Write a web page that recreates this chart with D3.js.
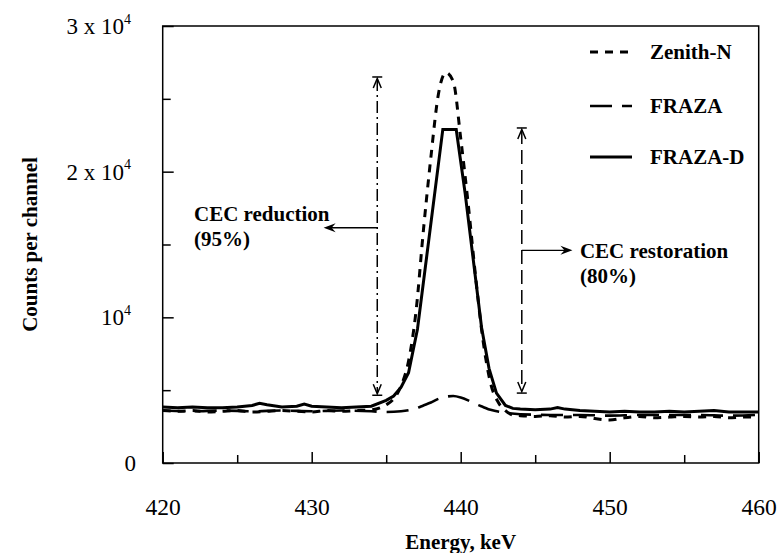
<!DOCTYPE html>
<html>
<head>
<meta charset="utf-8">
<script src="https://cdn.jsdelivr.net/npm/d3@7.9.0/dist/d3.min.js"></script>
<style>
  body { margin: 0; background: #fff; }
  svg { display: block; font-family: "Liberation Serif", "Times New Roman", serif; }
</style>
</head>
<body>
<svg id="chart" width="778" height="553"></svg>
<script>
// values (energy in keV, counts per channel)
const zenithEnergy = [420, 421, 422, 423, 424, 425, 426, 427, 428, 429, 430, 431, 432, 433, 434, 435,
  435.5, 436, 436.5, 437, 437.5, 438, 438.5, 439, 439.5, 440, 440.5, 441, 441.5, 442, 442.5, 443, 443.5,
  444, 445, 446, 447, 448, 449, 450, 451, 452, 453, 454, 455, 456, 457, 458, 459, 460];
const zenithCounts = [3600, 3550, 3600, 3500, 3550, 3600, 3500, 3550, 3600, 3550, 3500, 3600, 3550, 3600, 3650, 4000,
  4400, 5300, 7000, 10400, 16000, 21000, 25300, 26800, 26200, 22300, 17800, 12800, 8400, 5500, 4200, 3600, 3300,
  3250, 3200, 3250, 3150, 3200, 3050, 2950, 3100, 3200, 3100, 3150, 3200, 3150, 3200, 3100, 3150, 3150];

const frazaEnergy = [420, 422, 424, 426, 428, 430, 432, 434, 435, 436, 437,
  437.5, 438, 438.5, 439, 439.5, 440, 440.5, 441, 441.5, 442, 443, 444,
  446, 448, 450, 452, 454, 456, 458, 460];
const frazaCounts = [3600, 3550, 3600, 3550, 3600, 3550, 3600, 3550, 3500, 3550, 3750,
  3950, 4150, 4400, 4550, 4600, 4500, 4300, 4050, 3850, 3650, 3450, 3350,
  3300, 3300, 3250, 3300, 3300, 3300, 3250, 3300];

const frazaDEnergy = [420, 421, 422, 423, 424, 425, 426, 426.5, 427, 428, 429, 429.5, 430, 431, 432, 433, 434, 435,
  435.5, 436, 436.5, 437.1, 438.8, 439.7, 440.3, 441.4, 441.9, 442.4, 443, 443.5,
  444, 445, 446, 446.5, 447, 448, 449, 450, 451, 452, 453, 454, 455, 456, 457, 458, 459, 460];
const frazaDCounts = [3850, 3800, 3850, 3800, 3800, 3850, 3950, 4100, 4000, 3850, 3900, 4050, 3900, 3850, 3800, 3850, 3900, 4300,
  4600, 5200, 6200, 9200, 22900, 22900, 18500, 9300, 6500, 4800, 3950, 3750,
  3700, 3650, 3700, 3800, 3700, 3600, 3550, 3500, 3550, 3500, 3500, 3550, 3500, 3550, 3600, 3500, 3500, 3500];

const seriesNames = ['Zenith-N', 'FRAZA', 'FRAZA-D'];

const xTicks = [420, 430, 440, 450, 460];
const xMinorTicks = [425, 435, 445, 455];
const yTicks = [0, 10000, 20000, 30000];
const yMinorTicks = [5000, 15000, 25000];
const yTickLabels = [['0', ''], ['10', '4'], ['2 x 10', '4'], ['3 x 10', '4']];

// annotation arrows: vertical span markers and side pointers
const markerEnergy = [434.4, 444.1];
const markerTop = [26500, 23000];
const markerBottom = [4650, 4800];
const pointerLevel = [16150, 14600];
const pointerTip = [430.8, 447.5];
const noteEnergy = [422.1, 448.0];
const noteCounts = [16600, 14050];
const noteLines = [['CEC reduction', '(95%)'], ['CEC restoration', '(80%)']];

const svg = d3.select('#chart');
const plotLeft = 162.7, plotRight = 758.7, plotTop = 26, plotBottom = 463;

const x = d3.scaleLinear().domain([420, 460]).range([plotLeft, plotRight]);
const y = d3.scaleLinear().domain([0, 30000]).range([plotBottom, plotTop]);

// frame
svg.append('rect')
  .attr('x', plotLeft).attr('y', plotTop)
  .attr('width', plotRight - plotLeft).attr('height', plotBottom - plotTop)
  .attr('fill', 'none').attr('stroke', '#000').attr('stroke-width', 1.5);

// axes with inward ticks
function styleAxis(g) {
  g.select('.domain').remove();
  g.selectAll('line').attr('stroke', '#000').attr('stroke-width', 1.5);
}

svg.append('g')
  .attr('transform', `translate(0,${plotBottom})`)
  .call(d3.axisBottom(x).tickValues(xTicks).tickSize(-11).tickPadding(35).tickFormat(d3.format('d')))
  .call(styleAxis)
  .call(g => g.selectAll('text').attr('font-size', 23.5).attr('fill', '#000').attr('font-family', 'Liberation Serif'));

svg.append('g')
  .attr('transform', `translate(0,${plotBottom})`)
  .call(d3.axisBottom(x).tickValues(xMinorTicks).tickSize(-8).tickFormat(''))
  .call(styleAxis);

svg.append('g')
  .attr('transform', `translate(${plotLeft},0)`)
  .call(d3.axisLeft(y).tickValues(yTicks).tickSize(-11).tickFormat(''))
  .call(styleAxis);

svg.append('g')
  .attr('transform', `translate(${plotLeft},0)`)
  .call(d3.axisLeft(y).tickValues(yMinorTicks).tickSize(-8).tickFormat(''))
  .call(styleAxis);

yTicks.forEach((v, i) => {
  const [base, sup] = yTickLabels[i];
  const t = svg.append('text')
    .attr('x', sup ? 131 : 136)
    .attr('y', y(v))
    .attr('dy', '0.35em')
    .attr('text-anchor', 'end')
    .attr('font-size', 23);
  t.append('tspan').text(base);
  if (sup) t.append('tspan').attr('font-size', 14).attr('dy', '-0.75em').text(sup);
});

svg.append('text')
  .attr('x', x(440)).attr('y', 549)
  .attr('text-anchor', 'middle')
  .attr('font-size', 21).attr('font-weight', 'bold')
  .text('Energy, keV');

svg.append('text')
  .attr('transform', `translate(37,${(plotTop + plotBottom) / 2}) rotate(-90)`)
  .attr('text-anchor', 'middle')
  .attr('font-size', 21).attr('font-weight', 'bold')
  .text('Counts per channel');

// spectra
const series = [
  { name: seriesNames[0], energy: zenithEnergy, counts: zenithCounts, dash: '8,7', width: 3, curve: d3.curveMonotoneX },
  { name: seriesNames[1], energy: frazaEnergy, counts: frazaCounts, dash: '22,10', width: 2.6, curve: d3.curveMonotoneX },
  { name: seriesNames[2], energy: frazaDEnergy, counts: frazaDCounts, dash: null, width: 3, curve: d3.curveLinear }
];

series.forEach(s => {
  const pts = s.energy.map((e, i) => [e, s.counts[i]]);
  const line = d3.line().x(d => x(d[0])).y(d => y(d[1])).curve(s.curve);
  svg.append('path')
    .datum(pts)
    .attr('d', line)
    .attr('fill', 'none')
    .attr('stroke', '#000')
    .attr('stroke-width', s.width)
    .attr('stroke-dasharray', s.dash);
});

// legend
const legendY = [52, 106, 157];
series.forEach((s, i) => {
  svg.append('line')
    .attr('x1', 590).attr('x2', 632)
    .attr('y1', legendY[i]).attr('y2', legendY[i])
    .attr('stroke', '#000').attr('stroke-width', s.width)
    .attr('stroke-dasharray', s.dash);
  svg.append('text')
    .attr('x', 650).attr('y', legendY[i]).attr('dy', '0.35em')
    .attr('font-size', 21).attr('font-weight', 'bold')
    .text(s.name);
});

// annotation markers
const markerDash = ['12,4,2,4', '14,6'];
markerEnergy.forEach((e, i) => {
  const mx = x(e), y1 = y(markerTop[i]), y2 = y(markerBottom[i]);
  svg.append('line')
    .attr('x1', mx).attr('x2', mx).attr('y1', y1 + 2).attr('y2', y2 - 2)
    .attr('stroke', '#000').attr('stroke-width', 1.5)
    .attr('stroke-dasharray', markerDash[i]);
  [[y1, 1], [y2, -1]].forEach(([yy, dir]) => {
    svg.append('line')
      .attr('x1', mx - 5).attr('x2', mx + 5).attr('y1', yy).attr('y2', yy)
      .attr('stroke', '#000').attr('stroke-width', 1.5);
    svg.append('path')
      .attr('d', `M${mx - 4},${yy + dir * 11}L${mx},${yy + dir * 1.5}L${mx + 4},${yy + dir * 11}`)
      .attr('fill', 'none').attr('stroke', '#000').attr('stroke-width', 1.5);
  });

  const py = y(pointerLevel[i]), tip = x(pointerTip[i]);
  const dir = tip < mx ? 1 : -1;
  svg.append('line')
    .attr('x1', mx).attr('x2', tip + dir * 6).attr('y1', py).attr('y2', py)
    .attr('stroke', '#000').attr('stroke-width', 1.3);
  svg.append('path')
    .attr('d', `M${tip},${py}L${tip + dir * 12},${py - 4.5}L${tip + dir * 8},${py}L${tip + dir * 12},${py + 4.5}Z`)
    .attr('fill', '#000');

  const t = svg.append('text')
    .attr('x', x(noteEnergy[i])).attr('y', y(noteCounts[i]))
    .attr('font-size', 21).attr('font-weight', 'bold');
  noteLines[i].forEach((ln, k) => {
    t.append('tspan').attr('x', x(noteEnergy[i])).attr('dy', k === 0 ? 0 : 25).text(ln);
  });
});
</script>
</body>
</html>
